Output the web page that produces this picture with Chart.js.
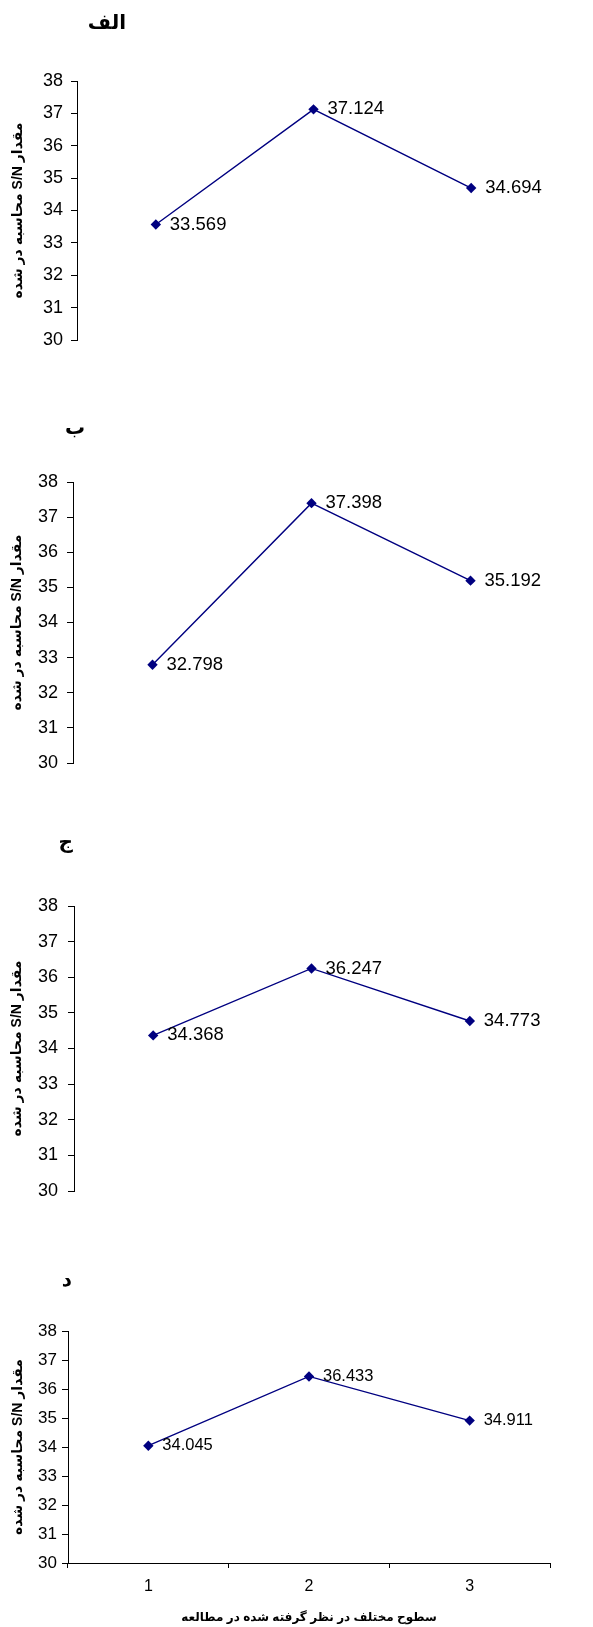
<!DOCTYPE html>
<html>
<head>
<meta charset="utf-8">
<script src="https://cdn.jsdelivr.net/npm/chart.js@4"></script>
<style>
  html, body { margin: 0; padding: 0; background: #fff; }
  body { width: 593px; height: 1627px; position: relative; overflow: hidden; }
  canvas { position: absolute; left: 0; }
</style>
</head>
<body>
<canvas id="chartA" width="593" height="400" style="top:0px"></canvas>
<canvas id="chartB" width="593" height="420" style="top:400px"></canvas>
<canvas id="chartC" width="593" height="400" style="top:820px"></canvas>
<canvas id="chartD" width="593" height="407" style="top:1220px"></canvas>
<script>
// levels studied (x categories)
const levels = ['1', '2', '3'];

// S/N values for each panel
const snA = [33.569, 37.124, 34.694];
const snB = [32.798, 37.398, 35.192];
const snC = [34.368, 36.247, 34.773];
const snD = [34.045, 36.433, 34.911];

const panelNames = ['الف', 'ب', 'ج', 'د'];
// RLE ... PDF so the rotated title keeps its right-to-left word order
const yTitle = '\u202Bمقدار S/N محاسبه در شده\u202C';
const xTitle = '\u202Bسطوح مختلف در نظر گرفته شده در مطالعه\u202C';

const yMin = 30;
const yMax = 38;

const FONT = "'Liberation Sans', Arial, 'DejaVu Sans', sans-serif";
const NAVY = '#000080';

// draws the panel letter (الف, ب, ...) above each chart
const panelLabel = {
    id: 'panelLabel',
    afterDraw(chart, args, opts) {
        const ctx = chart.ctx;
        ctx.save();
        ctx.font = 'bold 20px ' + FONT;
        ctx.fillStyle = '#000';
        ctx.textAlign = 'right';
        ctx.textBaseline = 'middle';
        ctx.fillText(opts.text, opts.x, opts.y);
        ctx.restore();
    }
};

// value labels to the right of each point
const valueLabels = {
    id: 'valueLabels',
    afterDatasetsDraw(chart, args, opts) {
        const ctx = chart.ctx;
        ctx.save();
        ctx.font = opts.size + 'px ' + FONT;
        ctx.fillStyle = '#000';
        ctx.textAlign = 'left';
        ctx.textBaseline = 'middle';
        chart.data.datasets.forEach((ds, i) => {
            chart.getDatasetMeta(i).data.forEach((pt, j) => {
                ctx.fillText(ds.data[j].toFixed(3), pt.x + 14, pt.y);
            });
        });
        ctx.restore();
    }
};

function makeChart(id, values, cfg) {
    const ctx = document.getElementById(id).getContext('2d');
    return new Chart(ctx, {
        type: 'line',
        data: {
            labels: levels,
            datasets: [{
                data: values,
                borderColor: NAVY,
                borderWidth: 1.4,
                backgroundColor: NAVY,
                pointStyle: 'rectRot',
                pointRadius: 5.2,
                pointBorderWidth: 0,
                tension: 0
            }]
        },
        options: {
            responsive: false,
            animation: false,
            devicePixelRatio: 1,
            layout: {
                padding: { left: 0, right: cfg.padRight, top: cfg.padTop, bottom: cfg.padBottom }
            },
            plugins: {
                legend: { display: false },
                tooltip: { enabled: false },
                panelLabel: { text: cfg.name, x: cfg.nameX, y: cfg.nameY },
                valueLabels: { size: cfg.labelSize }
            },
            scales: {
                x: {
                    display: cfg.showX,
                    offset: true,
                    grid: { offset: true, drawOnChartArea: false, drawTicks: true, tickLength: 5, color: '#000' },
                    border: { display: true, color: '#000', width: 1 },
                    ticks: { color: '#000', font: { family: FONT, size: 16 }, padding: 9 },
                    title: {
                        display: cfg.showX,
                        text: xTitle,
                        color: '#000',
                        font: { family: FONT, size: 12, weight: 'bold' },
                        padding: { top: 0, bottom: 2 }
                    },
                    afterFit: s => { if (cfg.xHeight) s.height = cfg.xHeight; }
                },
                y: {
                    min: yMin,
                    max: yMax,
                    ticks: { stepSize: 1, color: '#000', font: { family: FONT, size: cfg.tickSize }, padding: cfg.tickPad },
                    grid: { drawOnChartArea: false, drawTicks: true, tickLength: 6, color: '#000' },
                    border: { display: true, color: '#000', width: 1 },
                    title: {
                        display: true,
                        text: yTitle,
                        color: '#000',
                        font: { family: FONT, size: 14, weight: 'bold' },
                        padding: { top: cfg.yTitlePad, bottom: 0 }
                    },
                    afterFit: s => { s.width = cfg.axisLeft; }
                }
            }
        },
        plugins: [panelLabel, valueLabels]
    });
}

makeChart('chartA', snA, {
    name: panelNames[0], nameX: 126, nameY: 23,
    axisLeft: 77, padRight: 43, padTop: 81, padBottom: 60,
    showX: false, tickSize: 18, tickPad: 8, labelSize: 18.5, yTitlePad: 10
});
makeChart('chartB', snB, {
    name: panelNames[1], nameX: 85, nameY: 28,
    axisLeft: 73, padRight: 43, padTop: 82, padBottom: 57,
    showX: false, tickSize: 18, tickPad: 9, labelSize: 18.5, yTitlePad: 9
});
makeChart('chartC', snC, {
    name: panelNames[2], nameX: 73, nameY: 22,
    axisLeft: 74, padRight: 44, padTop: 86, padBottom: 29,
    showX: false, tickSize: 18, tickPad: 10, labelSize: 18.5, yTitlePad: 9
});
makeChart('chartD', snD, {
    name: panelNames[3], nameX: 72, nameY: 60,
    axisLeft: 68, padRight: 43, padTop: 111, padBottom: 0,
    showX: true, xHeight: 64, tickSize: 17, tickPad: 5, labelSize: 16.5, yTitlePad: 10
});
</script>
</body>
</html>
